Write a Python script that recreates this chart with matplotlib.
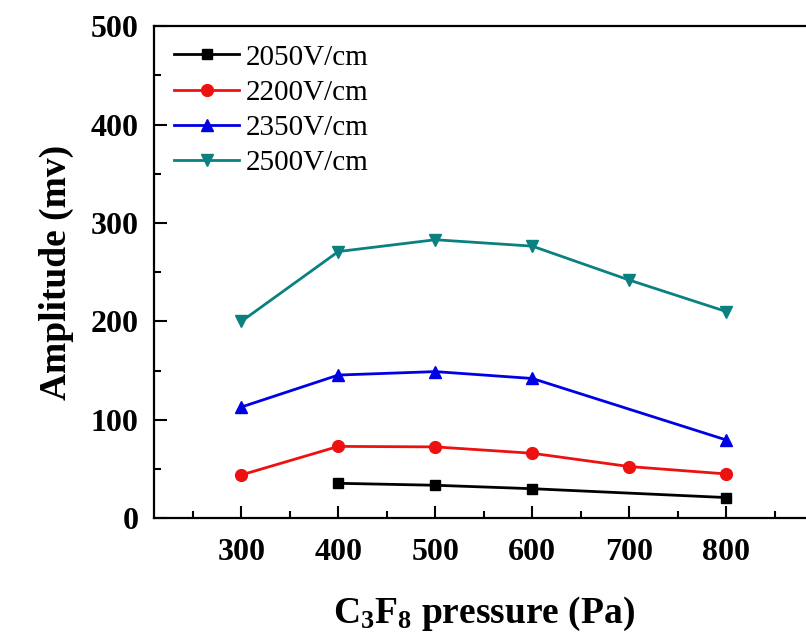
import matplotlib
matplotlib.use('Agg')
import matplotlib.pyplot as plt
from matplotlib.ticker import MultipleLocator

plt.rcParams['font.family'] = 'Liberation Serif'
plt.rcParams['mathtext.fontset'] = 'custom'
plt.rcParams['mathtext.rm'] = 'Liberation Serif:bold'
plt.rcParams['mathtext.it'] = 'Liberation Serif:bold'
plt.rcParams['mathtext.bf'] = 'Liberation Serif:bold'

# data
p_2050 = [400, 500, 600, 800]
a_2050 = [35.5, 33.5, 30, 21]
p_2200 = [300, 400, 500, 600, 700, 800]
a_2200 = [44, 73, 72.5, 66, 52.5, 45]
p_2350 = [300, 400, 500, 600, 800]
a_2350 = [113, 145.5, 149, 142, 79.5]
p_2500 = [300, 400, 500, 600, 700, 800]
a_2500 = [200, 271, 283, 276.5, 242, 210]

series = [
    (p_2050, a_2050, '2050V/cm', 'black', 's', 7),
    (p_2200, a_2200, '2200V/cm', '#ee1111', 'o', 8.5),
    (p_2350, a_2350, '2350V/cm', '#0000e6', '^', 9),
    (p_2500, a_2500, '2500V/cm', '#0a8080', 'v', 9),
]

fig = plt.figure(figsize=(8.06, 6.39), dpi=100)
ax = fig.add_axes([0.1911, 0.189, 0.8184, 0.770])

for x, y, lab, c, m, ms in series:
    ax.plot(x, y, color=c, marker=m, markersize=ms, linewidth=2.0, label=lab)

ax.set_xlim(210, 890)
ax.set_ylim(0, 500)
ax.set_xticks([300, 400, 500, 600, 700, 800])
ax.set_yticks([0, 100, 200, 300, 400, 500])
ax.xaxis.set_minor_locator(MultipleLocator(50))
ax.yaxis.set_minor_locator(MultipleLocator(50))
ax.tick_params(which='both', direction='in', width=1.5, labelsize=23)
ax.tick_params(axis='x', pad=14)
ax.tick_params(axis='y', pad=11)
ax.tick_params(which='major', length=9)
ax.tick_params(which='minor', length=5)
ax.tick_params(top=False, right=False, which='both')
for lbl in ax.get_xticklabels() + ax.get_yticklabels():
    lbl.set_fontweight('bold')
for s in ax.spines.values():
    s.set_linewidth(1.6)

ax.set_ylabel('Amplitude (mv)', fontsize=27, fontweight='bold', labelpad=12)
ax.set_xlabel(r'C$_3$F$_8$ pressure (Pa)', fontsize=27, fontweight='bold', labelpad=20)

ax.legend(loc='upper left', frameon=False, fontsize=21, handlelength=2.2,
          handletextpad=0.25, labelspacing=0.3, borderaxespad=0.3,
          bbox_to_anchor=(0.0, 1.005))

fig.savefig('out.png', dpi=100)
